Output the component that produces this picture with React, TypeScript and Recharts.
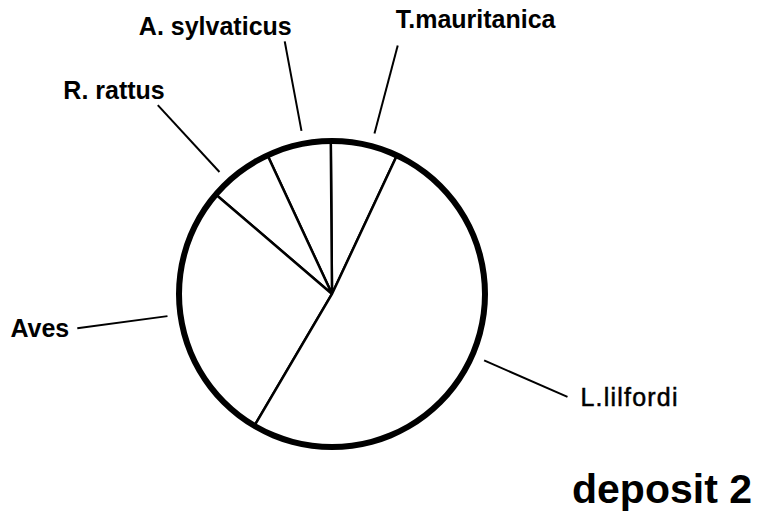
import { PieChart, Pie, Cell } from 'recharts'

// share of each prey group in deposit 2 (%)
const categories = ['T.mauritanica', 'A. sylvaticus', 'R. rattus', 'Aves', 'L.lilfordi']
const values = [7.1, 6.8, 6.8, 27.8, 51.5]
const boldLabels = [true, true, true, true, false]
const title = 'deposit 2'

// leader lines in the original are not exactly on the slice middle
const labelNudge = [-2.5, -2.1, 5.5, -1.8, 4.2]

const RADIAN = Math.PI / 180

const data = categories.map((name, i) => ({ name, value: values[i] }))
const total = values.reduce((a, b) => a + b, 0)

function renderLabel(props: any) {
  const { cx, cy, midAngle, index, name } = props
  const a = (midAngle + labelNudge[index]) * RADIAN
  const cos = Math.cos(a)
  const sin = Math.sin(a)
  const r1 = 166
  const r2 = 257
  const sx = cx + r1 * cos
  const sy = cy - r1 * sin
  const ex = cx + r2 * cos
  const ey = cy - r2 * sin
  const side = Math.abs(sin) < 0.5
  let tx, ty, anchor, baseline
  if (side) {
    tx = ex + (cos > 0 ? 13 : -8)
    ty = ey
    anchor = cos > 0 ? 'start' : 'end'
    baseline = 'central'
  } else {
    tx = ex + (cos < 0 ? 7 : -2)
    ty = ey - (cos < 0 ? 6 : 18)
    anchor = cos < 0 ? 'end' : 'start'
    baseline = 'alphabetic'
  }
  const bold = boldLabels[index]
  return (
    <g key={`lbl-${index}`}>
      <line x1={sx} y1={sy} x2={ex} y2={ey} stroke="#000" strokeWidth={2} />
      <text
        x={tx}
        y={ty}
        textAnchor={anchor}
        dominantBaseline={baseline}
        fontFamily="'Liberation Sans', Arial, sans-serif"
        fontWeight={bold ? 'bold' : 'normal'}
        letterSpacing={bold ? 0 : 1.2}
        stroke={bold ? 'none' : '#000'}
        strokeWidth={bold ? 0 : 0.5}
        fontSize={25}
        fill="#000"
      >
        {name}
      </text>
    </g>
  )
}

export default function App() {
  return (
    <div style={{ position: 'fixed', left: 0, top: 0, width: 760, height: 529, background: '#fff' }}>
      <PieChart width={760} height={529} margin={{ top: 0, right: 0, bottom: 0, left: 0 }}>
        <Pie
          data={data}
          dataKey="value"
          nameKey="name"
          cx={332}
          cy={294}
          outerRadius={153}
          startAngle={64.9}
          endAngle={424.9}
          stroke="#000"
          strokeWidth={2.5}
          label={renderLabel}
          labelLine={false}
          isAnimationActive={false}
        >
          {data.map((d) => (
            <Cell key={d.name} fill="#fff" />
          ))}
        </Pie>
        {/* heavy outline round the pie */}
        <Pie
          data={[{ name: 'all', value: total }]}
          dataKey="value"
          cx={332}
          cy={294}
          innerRadius={150}
          outerRadius={156}
          startAngle={90}
          endAngle={450}
          fill="#000"
          stroke="none"
          isAnimationActive={false}
        />
      </PieChart>
      <svg width={760} height={529} style={{ position: 'absolute', left: 0, top: 0, pointerEvents: 'none' }}>
        <text
          x={572}
          y={503}
          fontFamily="'Liberation Sans', Arial, sans-serif"
          fontWeight="bold"
          fontSize={41}
          fill="#000"
        >
          {title}
        </text>
      </svg>
    </div>
  )
}
